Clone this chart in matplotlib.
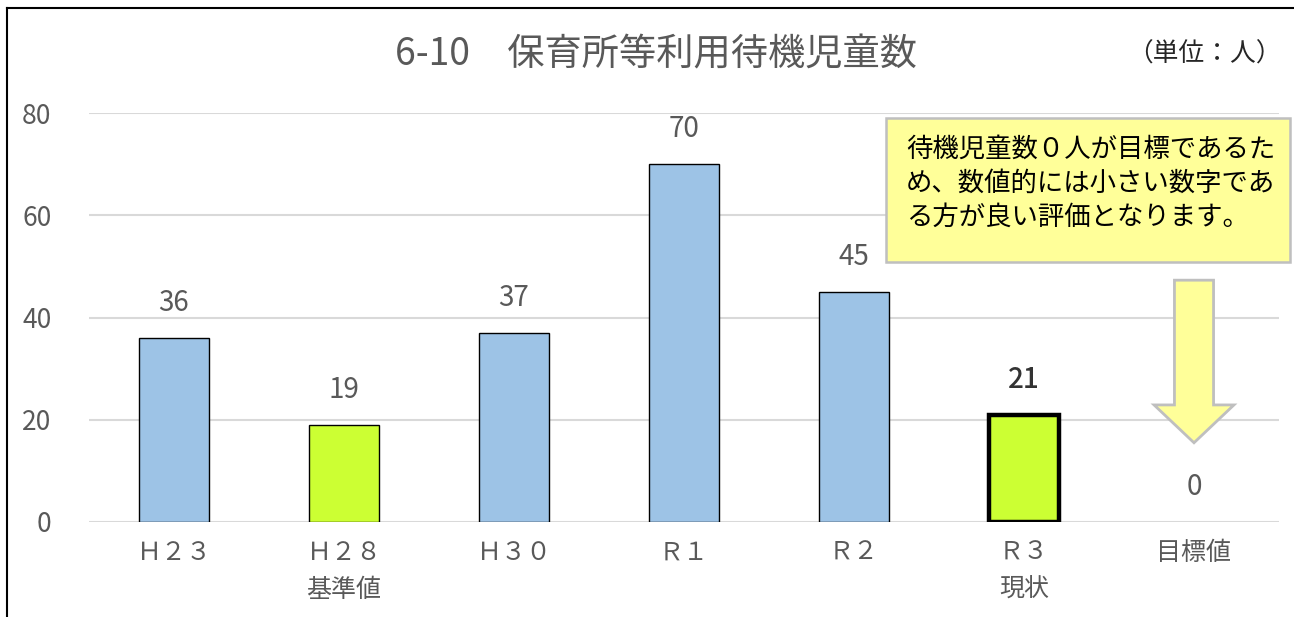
import matplotlib
matplotlib.use("Agg")
import matplotlib.pyplot as plt
from matplotlib.patches import Polygon, Rectangle
from matplotlib.lines import Line2D

plt.rcParams['font.family'] = ['Noto Sans CJK JP', 'DejaVu Sans']

# ---- data ----
categories = ["Ｈ２３", "Ｈ２８", "Ｈ３０", "Ｒ１", "Ｒ２", "Ｒ３", "目標値"]
sublabels = ["", "基準値", "", "", "", "現状", ""]
values = [36, 19, 37, 70, 45, 21, 0]
highlight = [False, True, False, False, False, True, False]
current = [False, False, False, False, False, True, False]
yticks = [0, 20, 40, 60, 80]
title = "6-10　保育所等利用待機児童数"
unit = "（単位：人）"
note = "待機児童数０人が目標であるた\nめ、数値的には小さい数字であ\nる方が良い評価となります。"

BLUE = "#9DC3E6"
GREEN = "#CCFF33"
GRAY = "#595959"

W, H = 1294, 617
fig = plt.figure(figsize=(W / 100, H / 100), dpi=100)
ax = fig.add_axes([89 / W, 1 - 522 / H, 1190 / W, 409 / H])

x = list(range(len(categories)))
for i, (v, hl, cur) in enumerate(zip(values, highlight, current)):
    color = GREEN if hl else BLUE
    if v == 0:
        ax.bar(i, v, width=0.41, color=color, linewidth=0, zorder=3)
    else:
        ax.bar(i, v, width=0.41, color=color, edgecolor="black",
               linewidth=3.2 if cur else 1.0, zorder=3)
    ax.annotate(str(v), (i, v), xytext=(0, 25), textcoords="offset points",
                ha="center", va="center", fontsize=20,
                color="#333333" if cur else GRAY,
                fontweight="medium" if cur else "normal")

ax.set_xlim(-0.5, len(categories) - 0.5)
ax.set_ylim(0, 80)
ax.set_yticks(yticks)
ax.set_yticklabels([str(t) for t in yticks])
ax.set_xticks(x)
ax.set_xticklabels([c + ("\n" + s if s else "") for c, s in zip(categories, sublabels)],
                   linespacing=1.55)
ax.tick_params(axis="y", length=0, pad=27, labelsize=19, labelcolor=GRAY)
ax.tick_params(axis="x", length=0, pad=13, labelsize=18, labelcolor=GRAY)
for sp in ax.spines.values():
    sp.set_visible(False)
ax.grid(axis="y", color="#D9D9D9", linewidth=1.5, zorder=0)
ax.set_axisbelow(True)

# arrow over target category
tx = len(categories) - 1
shaft = 0.115
head = 0.235
top, neck, tip = 47.3, 22.9, 15.5
arrow = Polygon([(tx - shaft, top), (tx + shaft, top), (tx + shaft, neck),
                 (tx + head, neck), (tx, tip), (tx - head, neck),
                 (tx - shaft, neck)], closed=True, facecolor="#FFFF99",
                edgecolor="#BFBFBF", linewidth=2, zorder=4, clip_on=False)
ax.add_patch(arrow)

# note box
box = Rectangle((886 / W, 1 - 262 / H), 404 / W, 144 / H, transform=fig.transFigure,
                facecolor="#FFFF99", edgecolor="#BFBFBF", linewidth=1.8, zorder=5)
fig.patches.append(box)
fig.text(906 / W, 1 - 136 / H, note, fontsize=19, color="black", ha="left",
         va="top", linespacing=1.33, zorder=6)

# title and unit
fig.text(656 / W, 1 - 55 / H, title, fontsize=26.8, color=GRAY, ha="center", va="center")
fig.text(1204 / W, 1 - 55 / H, unit, fontsize=18.5, color="#262626", ha="center", va="center")

# frame lines
fig.add_artist(Line2D([7 / W, 7 / W], [0, 1 - 8 / H], transform=fig.transFigure,
                      color="black", linewidth=1.5))
fig.add_artist(Line2D([7 / W, 1], [1 - 8 / H, 1 - 8 / H], transform=fig.transFigure,
                      color="black", linewidth=1.5))

fig.savefig("out.png", dpi=100)
